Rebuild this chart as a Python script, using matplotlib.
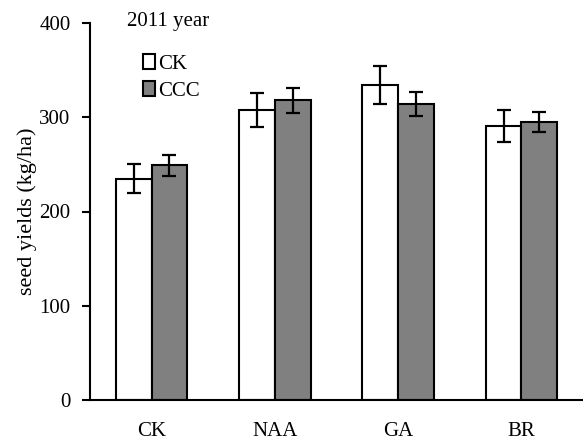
import numpy as np
from matplotlib import pyplot as plt

# treatments on the x axis
categories = ["CK", "NAA", "GA", "BR"]
# seed yields (kg/ha), 2011
ck_values = [235, 308, 334, 291]
ck_errors = [15, 18, 20, 17]
ccc_values = [249, 318, 314, 295]
ccc_errors = [11, 13, 13, 11]
series_labels = ["CK", "CCC"]

plt.rcParams["font.family"] = ["Liberation Serif", "DejaVu Serif"]
plt.rcParams["font.size"] = 15

fig = plt.figure(figsize=(5.83, 4.45), dpi=100)
ax = fig.add_axes([90 / 583, 1 - 400 / 445, 1 - 90 / 583, 377 / 445])

x = np.arange(len(categories))
width = 0.29
errStyle = dict(ecolor="black", elinewidth=1.6, capsize=5, capthick=1.6)

b1 = ax.bar(x - width / 2, ck_values, width, yerr=ck_errors, color="white",
            edgecolor="black", linewidth=1.5, error_kw=errStyle, label=series_labels[0])
b2 = ax.bar(x + width / 2, ccc_values, width, yerr=ccc_errors, color="#808080",
            edgecolor="black", linewidth=1.5, error_kw=errStyle, label=series_labels[1])

ax.set_xlim(-0.5, 3.5)
ax.set_ylim(0, 400)
ax.set_yticks([0, 100, 200, 300, 400])
ax.set_xticks(x)
ax.set_xticklabels(categories)
ax.tick_params(axis="x", length=0, pad=16)
ax.tick_params(axis="y", length=6, width=1.5, pad=8)

for side in ["top", "right"]:
    ax.spines[side].set_visible(False)
ax.spines["left"].set_linewidth(1.5)
ax.spines["bottom"].set_linewidth(1.5)

ax.set_ylabel("seed yields (kg/ha)", fontsize=16, labelpad=2)

ax.text(0.075, 1.005, "2011 year", transform=ax.transAxes, fontsize=15,
        ha="left", va="center")

ax.legend(loc="upper left", bbox_to_anchor=(0.107, 0.918), frameon=False,
          handlelength=0.6, handleheight=0.75, handletextpad=0.15,
          labelspacing=0.35, borderaxespad=0, borderpad=0)

fig.savefig("out.png", dpi=100)
